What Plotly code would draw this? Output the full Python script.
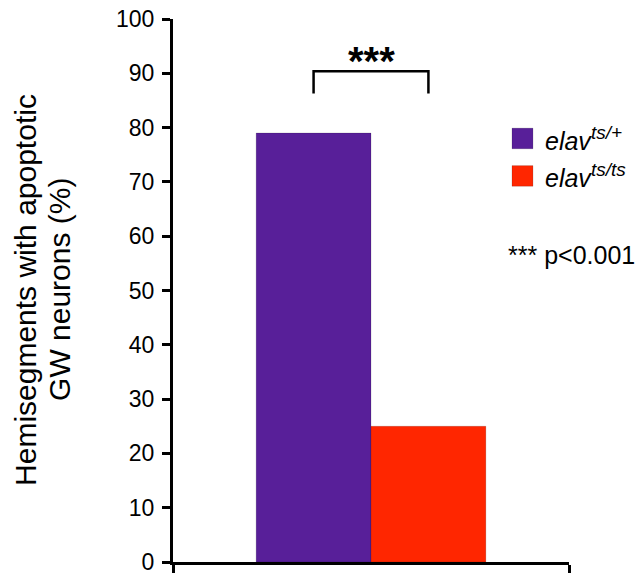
import plotly.graph_objects as go

# ---- data ----
series_names = ["elav<sup>ts/+</sup>", "elav<sup>ts/ts</sup>"]
series_values = [79, 25]
series_colors = ["#581F99", "#FF2600"]
y_tick_values = [0, 10, 20, 30, 40, 50, 60, 70, 80, 90, 100]
y_title_lines = ["Hemisegments with apoptotic", "GW neurons (%)"]
significance = "***"
p_note = "*** p<0.001"

FONT = "Liberation Sans, Arial, sans-serif"
BARGAP = 0.42

fig = go.Figure()
for name, val, col in zip(series_names, series_values, series_colors):
    fig.add_trace(go.Bar(
        x=[0], y=[val], name=name,
        marker=dict(color=col, line=dict(color="rgba(0,0,0,0.15)", width=1)),
        showlegend=False, hoverinfo="skip",
    ))

fig.update_layout(
    width=638, height=574,
    margin=dict(l=173, r=69, t=19, b=12),
    paper_bgcolor="white", plot_bgcolor="white",
    barmode="group", bargap=BARGAP, bargroupgap=0,
    font=dict(family=FONT, color="black"),
    xaxis=dict(
        type="linear", range=[-0.5, 0.5],
        tickvals=[-0.5, 0.5], ticktext=["", ""],
        ticks="outside", ticklen=8, tickwidth=3, tickcolor="black",
        showline=True, linewidth=3, linecolor="black",
        showgrid=False, zeroline=False, fixedrange=True, automargin=False,
    ),
    yaxis=dict(
        range=[0, 100], tickvals=y_tick_values,
        ticks="outside", ticklen=8, tickwidth=3, tickcolor="black",
        showline=True, linewidth=3, linecolor="black",
        showgrid=False, zeroline=False, automargin=False,
        tickfont=dict(size=23, family=FONT, color="black"),
        ticklabelstandoff=3, ticklabeloverflow="allow",
    ),
)

# significance bracket between the two bar centres
n = len(series_values)
group_w = 1 - BARGAP
bar_w = group_w / n
centers = [-group_w / 2 + bar_w * (i + 0.5) for i in range(n)]
top = max(series_values)
br_low, br_high = top + 7.3, top + 11.4
fig.add_shape(type="path",
              path=f"M {centers[0]},{br_low} L {centers[0]},{br_high} L {centers[-1]},{br_high} L {centers[-1]},{br_low}",
              xref="x", yref="y", line=dict(color="black", width=2.5))
fig.add_annotation(x=0, y=br_high + 1.9, xref="x", yref="y", text="<b>" + significance + "</b>",
                   showarrow=False, font=dict(size=40, family=FONT, color="black"),
                   yanchor="middle")

# manual legend
leg_y = [0.780, 0.711]
for name, col, yy in zip(series_names, series_colors, leg_y):
    fig.add_shape(type="rect", xref="paper", yref="paper",
                  x0=0.856, x1=0.909, y0=yy - 0.019, y1=yy + 0.019,
                  fillcolor=col, line=dict(color="rgba(0,0,0,0.15)", width=1))
    base, sup = name.split("<sup>")
    sup = sup.replace("</sup>", "")
    fig.add_annotation(x=0.935, y=yy, xref="paper", yref="paper",
                       text=f"<i>{base}<sup><span style='font-size:19px'>{sup}</span></sup></i>",
                       showarrow=False, xanchor="left", yanchor="middle",
                       font=dict(size=25, family=FONT, color="black"))

fig.add_annotation(x=0.84, y=0.565, xref="paper", yref="paper", text=p_note,
                   showarrow=False, xanchor="left", yanchor="middle",
                   font=dict(size=25, family=FONT, color="black"))

# y-axis title (two rotated lines)
for line, px in zip(y_title_lines, [26, 60]):
    fig.add_annotation(x=(px - 173) / 396, y=0.501, xref="paper", yref="paper",
                       text=line, textangle=-90, showarrow=False,
                       xanchor="center", yanchor="middle",
                       font=dict(size=30, family=FONT, color="black"))

fig.write_html("out.html", config={"displayModeBar": False},
               post_script="document.body.style.margin='0';")
